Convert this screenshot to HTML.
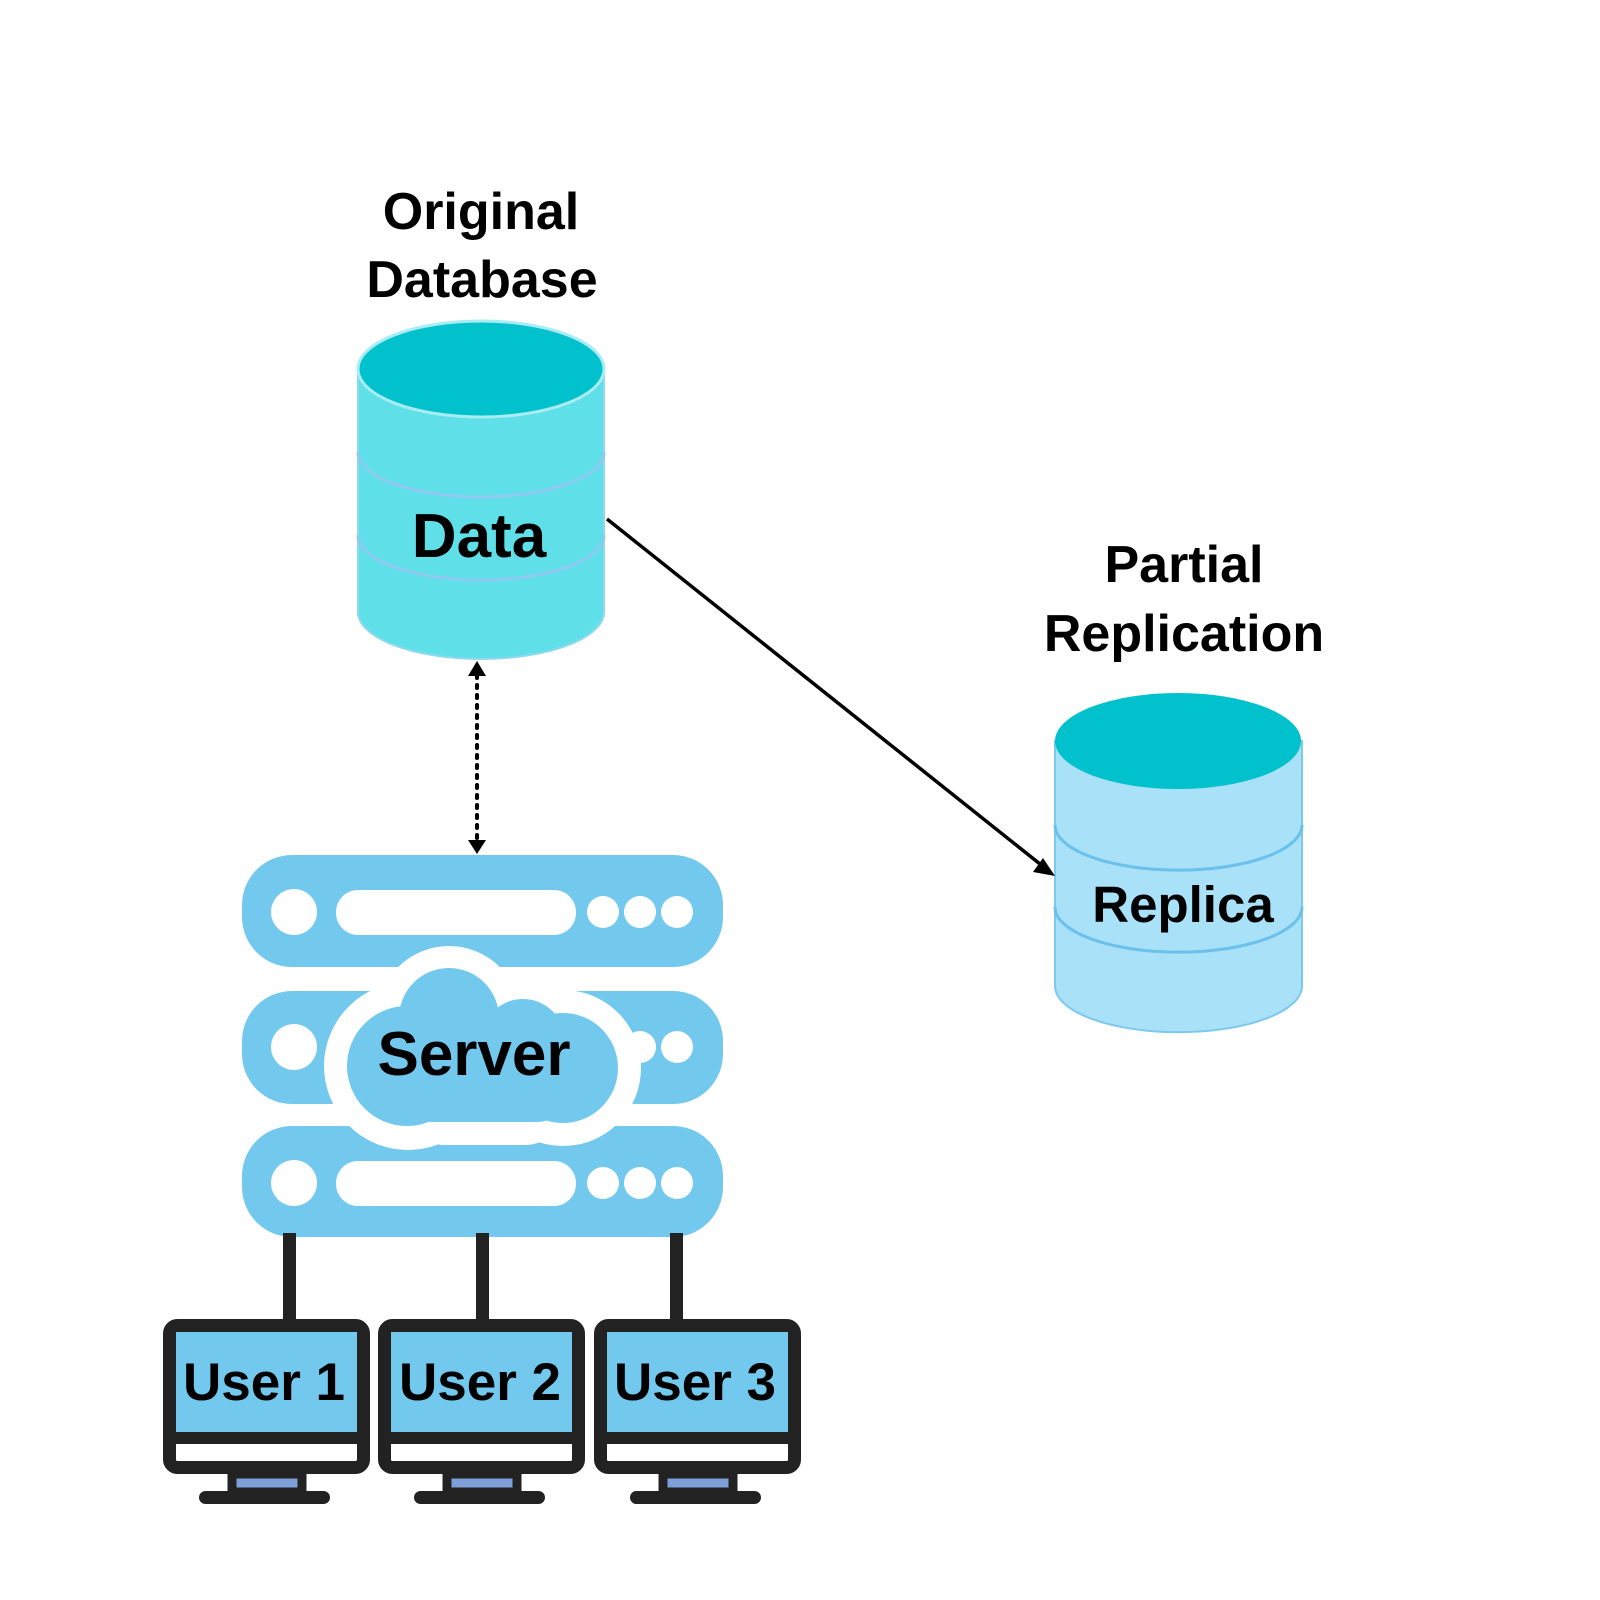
<!DOCTYPE html>
<html><head><style>body{margin:0;background:#fff}svg{display:block}</style></head><body>
<svg width="1600" height="1600" viewBox="0 0 1600 1600" xmlns="http://www.w3.org/2000/svg" font-family="'Liberation Sans', sans-serif" font-weight="bold">
<rect width="1600" height="1600" fill="#fff"/>
<!-- labels -->
<text x="481" y="229" font-size="52" text-anchor="middle">Original</text>
<text x="482" y="297" font-size="52" text-anchor="middle">Database</text>
<text x="1184" y="582" font-size="52" text-anchor="middle">Partial</text>
<text x="1184" y="651" font-size="52" text-anchor="middle">Replication</text>

<!-- original DB -->
<g transform="translate(-1,-3)">
<path d="M359 372 V615 A123 47 0 0 0 605 615 V372 Z" fill="#5fe0e8" stroke="#8fd8f0" stroke-width="2"/>
<path d="M359 455 A123 45 0 0 0 605 455" fill="none" stroke="#8fc8f0" stroke-width="3"/>
<path d="M359 538 A123 45 0 0 0 605 538" fill="none" stroke="#8fc8f0" stroke-width="3"/>
<ellipse cx="482" cy="372" rx="123" ry="48" fill="#00c1cc" stroke="#a8ecf4" stroke-width="3"/>
<text x="480" y="560" font-size="62" text-anchor="middle">Data</text>
</g>

<!-- replica DB -->
<g transform="translate(-6,-4)">
<path d="M1061 745 V990 A123 46 0 0 0 1308 990 V745 Z" fill="#a8e1f8" stroke="#7cc8ee" stroke-width="2"/>
<path d="M1061 829 A123 45 0 0 0 1308 829" fill="none" stroke="#6cc0ec" stroke-width="3"/>
<path d="M1061 911 A123 45 0 0 0 1308 911" fill="none" stroke="#6cc0ec" stroke-width="3"/>
<ellipse cx="1184" cy="745" rx="123" ry="48" fill="#00c1cc"/>
<text x="1189" y="926" font-size="51" text-anchor="middle">Replica</text>
</g>

<!-- arrows -->
<line x1="607" y1="519" x2="1045" y2="868" stroke="#000" stroke-width="3.5"/>
<polygon points="1055,876 1033,872 1043,858" fill="#000"/>
<line x1="477" y1="675" x2="477" y2="840" stroke="#000" stroke-width="4" stroke-dasharray="3 7" stroke-linecap="round"/>
<polygon points="477,661 468,676 486,676" fill="#000"/>
<polygon points="477,854 468,840 486,840" fill="#000"/>

<g transform="translate(0,-4)">
<!-- server racks -->
<g fill="#73c8ee">
<rect x="242" y="859" width="481" height="112" rx="50"/>
<rect x="242" y="995" width="481" height="113" rx="50"/>
<rect x="242" y="1130" width="481" height="111" rx="50"/>
</g>
<g fill="#fff">
<circle cx="294" cy="916" r="23"/><rect x="336" y="894" width="240" height="45" rx="22"/>
<circle cx="603" cy="916" r="16"/><circle cx="640" cy="916" r="16"/><circle cx="677" cy="916" r="16"/>
<circle cx="294" cy="1051" r="23"/><circle cx="640" cy="1051" r="16"/><circle cx="677" cy="1051" r="16"/>
<circle cx="294" cy="1187" r="23"/><rect x="336" y="1165" width="240" height="45" rx="22"/>
<circle cx="603" cy="1187" r="16"/><circle cx="640" cy="1187" r="16"/><circle cx="677" cy="1187" r="16"/>
</g>
<!-- cloud -->
<g fill="#fff">
<circle cx="449" cy="1022" r="72"/><circle cx="523" cy="1045" r="62"/>
<circle cx="408" cy="1070" r="84"/><circle cx="563" cy="1072" r="78"/>
<rect x="405" y="1060" width="160" height="89" rx="40"/>
</g>
<g fill="#73c8ee">
<circle cx="449" cy="1022" r="50"/><circle cx="523" cy="1045" r="42"/>
<circle cx="407" cy="1070" r="60"/><circle cx="563" cy="1072" r="55"/>
<rect x="400" y="1060" width="170" height="66" rx="33"/>
</g>
<text x="474" y="1079" font-size="62" text-anchor="middle">Server</text>
</g>

<g transform="translate(0,-6)">
<!-- connectors -->
<g fill="#222">
<rect x="283" y="1239" width="13" height="88"/>
<rect x="476" y="1239" width="13" height="88"/>
<rect x="670" y="1239" width="13" height="88"/>
</g>

<!-- monitors -->
<g id="m">
<rect x="169.5" y="1331.5" width="194" height="142" rx="8" fill="#fff" stroke="#222" stroke-width="13"/>
<rect x="176" y="1338" width="181" height="100" fill="#73c8ee"/>
<rect x="176" y="1438" width="181" height="12" fill="#222"/>
<rect x="232" y="1480" width="70" height="18" fill="#7f9fd8" stroke="#222" stroke-width="9"/>
<rect x="199" y="1497" width="131" height="13" rx="6.5" fill="#222"/>
</g>
<use href="#m" x="215"/>
<use href="#m" x="431"/>
<g font-size="53" text-anchor="middle">
<text x="264" y="1406">User 1</text>
<text x="480" y="1406">User 2</text>
<text x="695" y="1406">User 3</text>
</g>
</g>
</svg>
</body></html>
